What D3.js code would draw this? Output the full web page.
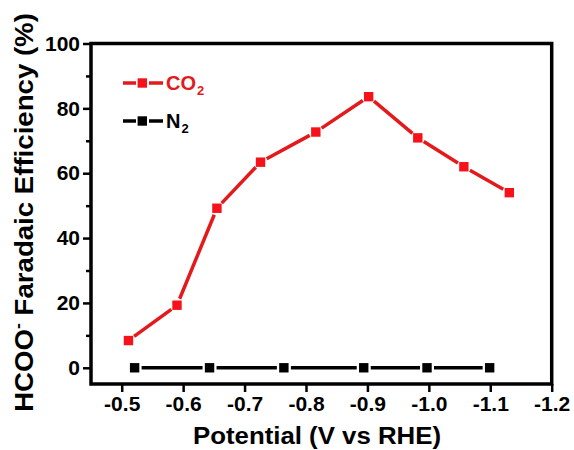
<!DOCTYPE html>
<html>
<head>
<meta charset="utf-8">
<script src="https://cdn.jsdelivr.net/npm/d3@7"></script>
<style>
  html, body { margin: 0; padding: 0; background: #fff; }
  svg { display: block; font-family: "Liberation Sans", Arial, sans-serif; font-weight: bold; }
</style>
</head>
<body>
<svg id="chart" width="574" height="450"></svg>
<script>
// Formate Faradaic efficiency vs applied potential
const co2Potential = [-0.511, -0.590, -0.655, -0.726, -0.816, -0.902, -0.982, -1.057, -1.131];
const co2Efficiency = [8.4, 19.3, 49.2, 63.4, 72.7, 83.6, 70.9, 62.0, 54.0];
const n2Potential = [-0.521, -0.643, -0.764, -0.894, -0.997, -1.099];
const n2Efficiency = [0, 0, 0, 0, 0, 0];

const xTickValues = [-0.5, -0.6, -0.7, -0.8, -0.9, -1.0, -1.1, -1.2];
const xTickLabels = ["-0.5", "-0.6", "-0.7", "-0.8", "-0.9", "-1.0", "-1.1", "-1.2"];
const yTickValues = [0, 20, 40, 60, 80, 100];
const yMinorTicks = [10, 30, 50, 70, 90];

const seriesNames = ["CO", "N"];
const seriesColors = ["#e3191c", "#000000"];
const markerColors = ["#f5121a", "#000000"];

const svg = d3.select("#chart");
const plotLeft = 91, plotRight = 551.7, plotTop = 43.5, plotBottom = 384;

const x = d3.scaleLinear().domain([-0.45, -1.2]).range([plotLeft, plotRight]);
const y = d3.scaleLinear().domain([-5, 100]).range([plotBottom, plotTop]);

// axes
const xAxis = d3.axisBottom(x).tickValues(xTickValues).tickSize(8).tickPadding(4)
  .tickFormat((d, i) => xTickLabels[i]);
const gx = svg.append("g").attr("transform", `translate(0,${plotBottom})`).call(xAxis);
const yAxis = d3.axisLeft(y).tickValues(yTickValues).tickSize(8).tickPadding(3).tickFormat(d3.format("d"));
const gy = svg.append("g").attr("transform", `translate(${plotLeft},0)`).call(yAxis);
const gyMinor = svg.append("g").attr("transform", `translate(${plotLeft},0)`)
  .call(d3.axisLeft(y).tickValues(yMinorTicks).tickSize(5).tickFormat(""));

[gx, gy, gyMinor].forEach(g => {
  g.select(".domain").remove();
  g.selectAll(".tick line").attr("stroke", "#000").attr("stroke-width", 2.5);
  g.selectAll(".tick text").attr("fill", "#000").attr("font-size", 21).attr("font-weight", "bold");
});
gx.selectAll(".tick text").attr("dy", "0.71em");

// frame
svg.append("rect")
  .attr("x", plotLeft).attr("y", plotTop)
  .attr("width", plotRight - plotLeft).attr("height", plotBottom - plotTop)
  .attr("fill", "none").attr("stroke", "#000").attr("stroke-width", 3.5);

// line segments with small gaps around each marker
function drawSeries(xs, ys, color, mcolor) {
  const pts = xs.map((v, i) => [x(v), y(ys[i])]);
  const gap = 7;
  const g = svg.append("g");
  for (let i = 0; i < pts.length - 1; i++) {
    const [x1, y1] = pts[i], [x2, y2] = pts[i + 1];
    const dx = x2 - x1, dy = y2 - y1, len = Math.hypot(dx, dy);
    const ux = dx / len, uy = dy / len;
    g.append("line")
      .attr("x1", x1 + ux * gap).attr("y1", y1 + uy * gap)
      .attr("x2", x2 - ux * gap).attr("y2", y2 - uy * gap)
      .attr("stroke", color).attr("stroke-width", 3.5);
  }
  g.selectAll("rect").data(pts).enter().append("rect")
    .attr("x", d => d[0] - 4.7).attr("y", d => d[1] - 4.7)
    .attr("width", 9.4).attr("height", 9.4)
    .attr("fill", mcolor);
}
drawSeries(co2Potential, co2Efficiency, seriesColors[0], markerColors[0]);
drawSeries(n2Potential, n2Efficiency, seriesColors[1], markerColors[1]);

// legend
const legendRows = [83, 121];
seriesNames.forEach((name, i) => {
  const ly = legendRows[i];
  const g = svg.append("g");
  g.append("line").attr("x1", 123).attr("x2", 136).attr("y1", ly).attr("y2", ly)
    .attr("stroke", seriesColors[i]).attr("stroke-width", 3.5);
  g.append("line").attr("x1", 149).attr("x2", 163).attr("y1", ly).attr("y2", ly)
    .attr("stroke", seriesColors[i]).attr("stroke-width", 3.5);
  g.append("rect").attr("x", 137.6).attr("y", ly - 4.7).attr("width", 9.4).attr("height", 9.4)
    .attr("fill", markerColors[i]);
  const t = g.append("text").attr("x", 166).attr("y", ly + 7)
    .attr("font-size", 20).attr("fill", seriesColors[i]);
  t.append("tspan").text(name);
  t.append("tspan").attr("font-size", 13).attr("dx", 1).attr("dy", 5).text("2");
});

// axis titles
svg.append("text")
  .attr("x", 317).attr("y", 444)
  .attr("text-anchor", "middle")
  .attr("font-size", 23)
  .attr("textLength", 248).attr("lengthAdjust", "spacingAndGlyphs")
  .text("Potential (V vs RHE)");

// y title: stretched along its length to span the plot height
const ytGroup = svg.append("g").attr("transform", "translate(33,212.5) rotate(-90)");
const yt = ytGroup.append("text")
  .attr("text-anchor", "middle")
  .attr("font-size", 25);
yt.append("tspan").text("HCOO");
yt.append("tspan").attr("font-size", 16).attr("dy", -10).text("-");
yt.append("tspan").attr("dy", 10).text(" Faradaic Efficiency (%)");
const ytLen = yt.node().getBBox().width;
yt.attr("transform", `scale(${399 / ytLen},1)`);
</script>
</body>
</html>
